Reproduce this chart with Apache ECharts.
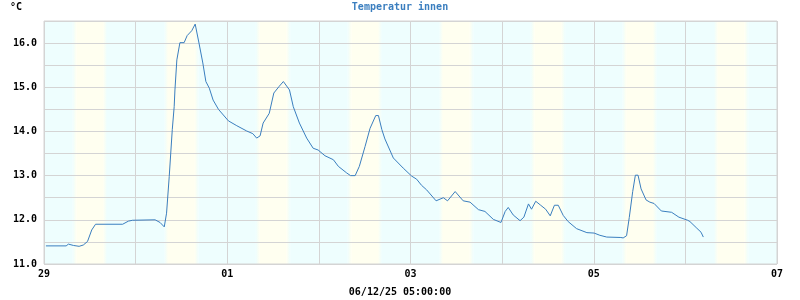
<!DOCTYPE html>
<html><head><meta charset="utf-8">
<script src="https://cdn.jsdelivr.net/npm/echarts@6/dist/echarts.min.js"></script>
<style>html,body{margin:0;padding:0;background:#fff}#c{width:800px;height:300px}</style>
</head><body><div id="c"></div>
<script>
var dayLabels = ['29','30','01','02','03','04','05','06','07'];
var hours = [0.5,5.8,6.4,7.7,9.2,10.3,11.4,12.5,13.5,20.6,22.1,23.2,29.1,30.4,31.5,32.1,32.8,33.6,34.1,34.3,34.8,35.6,36.7,37.5,38.7,39.6,40.6,41.6,42.4,43.3,44.3,45.7,48.3,50.5,53.1,54.7,55.7,56.6,57.4,59.0,60.2,61.6,62.7,64.3,65.3,66.9,68.8,70.5,71.8,73.6,75.8,77.1,79.3,80.3,81.5,82.6,84.1,85.4,86.9,87.6,88.5,89.3,91.5,94.1,96.3,97.6,98.9,100.2,102.7,104.6,105.7,107.7,109.8,111.6,113.8,115.5,117.7,119.7,120.8,121.6,122.9,124.7,125.7,126.9,127.7,128.8,130.1,131.4,132.6,133.7,134.7,136.0,137.3,139.5,142.2,144.1,145.6,147.4,151.1,151.7,152.6,153.3,154.2,154.9,155.6,156.4,157.7,158.7,159.8,161.7,164.4,166.3,168.6,169.2,171.0,172.1,172.7];
var temps = [11.41,11.41,11.45,11.42,11.40,11.43,11.51,11.77,11.90,11.90,11.97,11.99,12.00,11.94,11.84,12.15,12.98,14.04,14.56,14.94,15.62,16.01,16.01,16.17,16.28,16.43,16.00,15.55,15.13,14.98,14.71,14.50,14.24,14.13,14.01,13.95,13.85,13.90,14.19,14.41,14.87,15.02,15.13,14.94,14.56,14.19,13.85,13.62,13.58,13.45,13.36,13.21,13.06,13.00,13.00,13.21,13.66,14.07,14.36,14.36,14.04,13.83,13.40,13.17,12.99,12.92,12.78,12.68,12.43,12.50,12.43,12.64,12.43,12.40,12.23,12.19,12.01,11.94,12.19,12.28,12.11,11.98,12.06,12.36,12.24,12.42,12.33,12.24,12.09,12.33,12.33,12.10,11.96,11.80,11.71,11.70,11.65,11.61,11.60,11.59,11.64,12.05,12.64,13.01,13.01,12.70,12.45,12.40,12.37,12.20,12.17,12.06,11.99,11.96,11.81,11.72,11.61];

var data = hours.map(function(h,i){return [h,temps[i]];});
var azure = '#eefefe', ivory = '#fffff0';
function grad(a,b){return {type:'linear',x:0,y:0,x2:1,y2:0,colorStops:[{offset:0,color:a},{offset:1,color:b}]};}
var bands = [];
for (var d = 0; d < dayLabels.length - 1; d++) {
  var s = d*24;
  bands.push([{xAxis:s, itemStyle:{color:azure}},{xAxis:s+7.5}]);
  bands.push([{xAxis:s+7.5, itemStyle:{color:grad(azure,ivory)}},{xAxis:s+8.5}]);
  bands.push([{xAxis:s+8.5, itemStyle:{color:ivory}},{xAxis:s+15.5}]);
  bands.push([{xAxis:s+15.5, itemStyle:{color:grad(ivory,azure)}},{xAxis:s+16.5}]);
  bands.push([{xAxis:s+16.5, itemStyle:{color:azure}},{xAxis:s+24}]);
}
var font = 'DejaVu Sans Mono';
var chart = echarts.init(document.getElementById('c'));
chart.setOption({
  animation:false,
  backgroundColor:'#ffffff',
  title:[
    {text:'Temperatur innen', left:'center', top:2, padding:0, textStyle:{fontFamily:font, fontSize:10, fontWeight:'bold', color:'#3a7ebf'}},
    {text:'°C', left:10, top:2, padding:0, textStyle:{fontFamily:font, fontSize:10, fontWeight:'bold', color:'#000'}},
    {text:'06/12/25 05:00:00', left:'center', top:287, padding:0, textStyle:{fontFamily:font, fontSize:10, fontWeight:'bold', color:'#000'}}
  ],
  grid:{left:44, right:23, top:21, bottom:36, show:true, borderColor:'#d4d4d4', borderWidth:1, backgroundColor:'transparent'},
  xAxis:{type:'value', min:0, max:(dayLabels.length-1)*24, interval:24,
    axisLine:{show:false}, axisTick:{show:false},
    splitLine:{show:true, lineStyle:{color:'#d4d4d4', width:1}},
    axisLabel:{margin:5, fontFamily:font, fontSize:10, fontWeight:'bold', color:'#000',
      formatter:function(v){var i=Math.round(v/24); return i%2===0 ? dayLabels[i] : '';}}},
  yAxis:{type:'value', min:11, max:16.5, interval:0.5,
    axisLine:{show:false}, axisTick:{show:false},
    splitLine:{show:true, lineStyle:{color:'#d4d4d4', width:1}},
    axisLabel:{margin:7, fontFamily:font, fontSize:10, fontWeight:'bold', color:'#000',
      formatter:function(v){return Math.abs(v-Math.round(v))<1e-6 ? v.toFixed(1) : '';}}},
  series:[{type:'line', data:data, showSymbol:false, lineStyle:{color:'#3a7ebf', width:1}, itemStyle:{color:'#3a7ebf'}, z:5,
    markArea:{silent:true, z:-1, data:bands}}]
});
</script></body></html>
